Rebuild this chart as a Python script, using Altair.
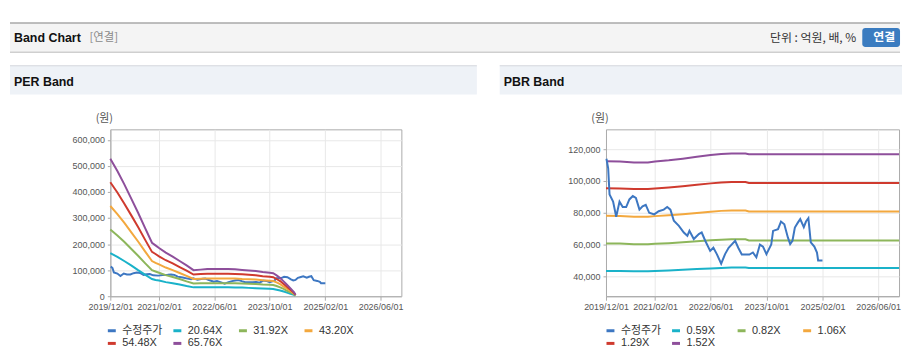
import altair as alt
import pandas as pd

# ---------------- data ----------------
x_tick_dates = [(2019, 12), (2021, 2), (2022, 6), (2023, 10), (2025, 2), (2026, 6)]

price_dates = ["2019-12-05", "2019-12-20", "2020-01-01", "2020-02-01", "2020-02-28", "2020-03-28",
               "2020-04-25", "2020-05-25", "2020-06-22", "2020-07-22", "2020-08-18", "2020-09-18",
               "2020-10-15", "2020-11-12", "2020-12-12", "2021-01-25", "2021-03-05", "2021-04-18",
               "2021-05-18", "2021-06-15", "2021-07-15", "2021-08-28", "2021-10-10", "2021-11-10",
               "2021-11-28", "2022-01-05", "2022-02-18", "2022-03-15", "2022-04-15", "2022-05-28",
               "2022-06-25", "2022-07-25", "2022-09-01", "2022-10-05", "2022-11-05", "2022-12-01",
               "2023-01-01", "2023-01-28", "2023-02-28", "2023-05-05", "2023-06-05", "2023-07-05",
               "2023-08-05", "2023-09-01", "2023-10-01", "2023-11-12", "2023-11-28", "2024-01-10",
               "2024-02-05", "2024-03-05", "2024-04-05", "2024-04-25", "2024-05-15", "2024-06-05",
               "2024-07-01", "2024-07-22", "2024-08-22", "2024-09-10", "2024-10-01", "2024-10-22",
               "2024-11-22", "2024-12-15", "2024-12-25", "2025-02-01"]
price_k = [114, 108, 91.5, 87, 77.5, 87, 83.6, 83.6, 88.4, 90.5, 89.4, 82,
           84, 85, 80, 79, 81, 82, 83.6, 82, 75, 71.8, 67.6, 65.5,
           68.6, 63.5, 66.6, 67.6, 62.4, 56, 58, 54, 48, 54, 58, 60,
           62.4, 58, 53.7, 53.7, 55, 52, 60, 58.7, 54, 60, 68.6, 69.7,
           74.5, 72.8, 64.5, 60.3, 62.4, 70.7, 73.8, 76, 71, 74.5, 76.6, 61.4,
           58.7, 55, 50, 50]

per_dates = ["2019-12-01", "2020-02-01", "2020-04-01", "2020-06-01", "2020-08-01", "2020-10-01",
             "2020-12-01", "2021-01-01", "2021-02-01", "2021-04-01", "2021-06-01", "2021-08-01",
             "2021-10-01", "2021-12-01", "2022-02-01", "2022-04-01", "2022-06-01", "2022-08-01",
             "2022-10-01", "2022-12-01", "2023-02-01", "2023-04-01", "2023-06-01", "2023-08-01",
             "2023-10-01", "2023-11-01", "2023-12-01", "2024-01-01", "2024-02-01", "2024-03-01",
             "2024-04-01", "2024-05-01", "2024-05-15"]
per_2064_k = [165, 151, 135, 118, 100, 83, 66, 62, 60, 54, 50, 45, 39, 34, 34, 34, 34, 34, 34, 33,
              33, 32, 31, 30, 29, 28, 25, 22, 18, 14, 9, 5, 2]
per_3192_k = [256, 233, 209, 182, 155, 127, 100, 95, 90, 81, 74, 66, 57, 49, 50, 50, 50, 50, 50, 50,
              49, 48, 47, 45, 44, 43, 39, 34, 28, 21, 15, 8, 3]
per_4320_k = [346, 315, 282, 246, 210, 172, 135, 128, 122, 110, 100, 89, 78, 66, 67, 68, 68, 68, 68, 68,
              66, 65, 64, 61, 59, 58, 53, 46, 37, 29, 20, 11, 4]
per_5448_k = [437, 398, 356, 311, 265, 217, 170, 162, 153, 138, 126, 112, 98, 83, 85, 86, 86, 86, 86, 85,
              84, 82, 80, 77, 75, 73, 66, 58, 47, 36, 25, 13, 5]
per_6576_k = [527, 480, 430, 375, 320, 262, 205, 195, 185, 167, 152, 135, 118, 100, 102, 104, 104, 104, 104, 103,
              101, 99, 97, 93, 90, 88, 80, 70, 57, 44, 30, 16, 6]

pbr_dates = ["2019-12-01", "2020-04-01", "2020-08-01", "2020-12-01", "2021-02-01", "2021-06-01",
             "2021-10-01", "2022-02-01", "2022-06-01", "2022-09-01", "2022-12-01", "2023-04-01",
             "2023-05-01", "2026-12-01"]
pbr_059_k = [43.4, 43.4, 43.2, 43.2, 43.4, 43.7, 44.1, 44.6, 45.0, 45.3, 45.5, 45.5, 45.2, 45.2]
pbr_082_k = [60.7, 60.6, 60.2, 60.2, 60.5, 60.9, 61.5, 62.1, 62.7, 63.1, 63.3, 63.3, 62.6, 62.6]
pbr_106_k = [78.1, 78.0, 77.5, 77.5, 77.9, 78.4, 79.1, 79.9, 80.7, 81.2, 81.4, 81.4, 80.8, 80.8]
pbr_129_k = [95.5, 95.3, 94.9, 94.9, 95.3, 95.9, 96.7, 97.6, 98.5, 99.1, 99.3, 99.3, 98.8, 98.8]
pbr_152_k = [112.4, 112.3, 111.7, 111.7, 112.3, 113.0, 114.0, 115.2, 116.3, 117.0, 117.3, 117.3, 116.8, 116.8]

per_labels = ["수정주가", "20.64X", "31.92X", "43.20X", "54.48X", "65.76X"]
pbr_labels = ["수정주가", "0.59X", "0.82X", "1.06X", "1.29X", "1.52X"]
series_colors = ["#3d77c2", "#1ab2c9", "#8db65b", "#f3a83e", "#cf3a2e", "#8e4f9b"]

per_y_ticks = [0, 100000, 200000, 300000, 400000, 500000, 600000]
pbr_y_ticks = [40000, 60000, 80000, 100000, 120000]

# ---------------- tables ----------------
def price_table(label):
    return pd.DataFrame({"date": pd.to_datetime(price_dates),
                         "value": [v * 1000 for v in price_k],
                         "series": label})


def band_table(dates, labels, arrays):
    frames = []
    for lab, arr in zip(labels, arrays):
        frames.append(pd.DataFrame({"date": pd.to_datetime(dates),
                                    "value": [v * 1000 for v in arr],
                                    "series": lab}))
    return pd.concat(frames, ignore_index=True)


per_band = band_table(per_dates, per_labels[1:], [per_2064_k, per_3192_k, per_4320_k, per_5448_k, per_6576_k])
pbr_band = band_table(pbr_dates, pbr_labels[1:], [pbr_059_k, pbr_082_k, pbr_106_k, pbr_129_k, pbr_152_k])

FONT = "Liberation Sans, Noto Sans CJK KR"
KFONT = "Noto Sans CJK KR"
one = pd.DataFrame({"k": [0]})


def dt(y, m):
    return alt.DateTime(year=y, month=m, date=1)


def panel(title, band_df, labels, y_domain, y_ticks, width, left, right, legend_x, price_first):
    x = alt.X("date:T",
              scale=alt.Scale(domain=[dt(2019, 12), dt(2026, 12)]),
              axis=alt.Axis(values=[dt(y, m) for y, m in x_tick_dates], format="%Y/%m/%d",
                            title=None, labelOverlap=False, labelFlush=False, grid=True))
    y = alt.Y("value:Q",
              scale=alt.Scale(domain=y_domain, nice=False, zero=False),
              axis=alt.Axis(values=y_ticks, format=",d", title=None, grid=True))
    color = alt.Color("series:N",
                      scale=alt.Scale(domain=labels, range=series_colors),
                      legend=alt.Legend(orient="none", legendX=legend_x, legendY=197,
                                        direction="horizontal", columns=4, title=None,
                                        symbolType="stroke", symbolStrokeWidth=3, symbolSize=64,
                                        labelFont=FONT, labelFontSize=11, labelColor="#333333",
                                        gridAlign="all", columnPadding=4, rowPadding=0,
                                        labelOffset=5, labelLimit=120, padding=0))
    band = alt.Chart(band_df).mark_line(strokeWidth=2).encode(x=x, y=y, color=color)
    price = alt.Chart(price_table(labels[0])).mark_line(strokeWidth=2).encode(x=x, y=y, color=color)

    strip = alt.Chart(one).mark_rect(color="#eef2f7").encode(
        x=alt.value(left), x2=alt.value(right), y=alt.value(-64), y2=alt.value(-35))
    strip_line = alt.Chart(one).mark_rule(color="#d4d7dc", strokeWidth=1).encode(
        x=alt.value(left), x2=alt.value(right), y=alt.value(-64))
    ttl = alt.Chart(one).mark_text(text=title, align="left", baseline="middle", font=FONT,
                                   fontWeight="bold", fontSize=12.5, color="#111111").encode(
        x=alt.value(left + 4), y=alt.value(-48))
    unit = alt.Chart(one).mark_text(text="(원)", align="center", baseline="middle", font=KFONT,
                                    fontSize=11, color="#555555").encode(
        x=alt.value(-6), y=alt.value(-10))
    lines = [price, band] if price_first else [band, price]
    return alt.layer(strip, strip_line, ttl, unit, *lines).properties(width=width, height=168)


left_panel = panel("PER Band", per_band, per_labels, [0, 640000], per_y_ticks,
                   293, -101, 369, -4, True)
right_panel = panel("PBR Band", pbr_band, pbr_labels, [27500, 132500], pbr_y_ticks,
                    295, -107, 298, -1, False)

# ---------------- header bar (origin aligned with the left plot origin) ----------------
H0 = -101
H1 = H0 + 896
hdr_bg = alt.Chart(one).mark_rect(color="#f4f4f4").encode(
    x=alt.value(H0), x2=alt.value(H1), y=alt.value(0), y2=alt.value(30))
hdr_top = alt.Chart(one).mark_rule(color="#a8a8a8", strokeWidth=1.5).encode(
    x=alt.value(H0), x2=alt.value(H1), y=alt.value(0))
hdr_bot = alt.Chart(one).mark_rule(color="#cfcfcf", strokeWidth=1.5).encode(
    x=alt.value(H0), x2=alt.value(H1), y=alt.value(29.5))
hdr_t1 = alt.Chart(one).mark_text(text="Band Chart", align="left", baseline="middle", font=FONT,
                                  fontWeight="bold", fontSize=12.5, color="#111111").encode(
    x=alt.value(H0 + 4), y=alt.value(15))
hdr_t2 = alt.Chart(one).mark_text(text="[연결]", align="left", baseline="middle", font=KFONT,
                                  fontSize=11.5, color="#8a8a8a").encode(
    x=alt.value(H0 + 80), y=alt.value(15))
hdr_t3 = alt.Chart(one).mark_text(text="단위 : 억원, 배, %", align="right", baseline="middle", font=KFONT,
                                  fontSize=12, color="#333333").encode(
    x=alt.value(H0 + 852), y=alt.value(15))
hdr_btn = alt.Chart(one).mark_rect(color="#3b7cc0", cornerRadius=3).encode(
    x=alt.value(H0 + 858), x2=alt.value(H1), y=alt.value(5), y2=alt.value(24))
hdr_btn_t = alt.Chart(one).mark_text(text="연결", align="center", baseline="middle", font=KFONT,
                                     fontWeight="bold", fontSize=12, color="#ffffff").encode(
    x=alt.value(H0 + 880), y=alt.value(14.5))
header = alt.layer(hdr_bg, hdr_top, hdr_bot, hdr_t1, hdr_t2, hdr_t3, hdr_btn, hdr_btn_t).properties(
    width=1, height=30, view=alt.ViewBackground(stroke="transparent"))

panels = alt.hconcat(left_panel, right_panel, spacing=21).resolve_scale(color="independent")

chart = alt.vconcat(
    header,
    panels,
    spacing=11,
).properties(
    padding={"top": 12, "left": 0, "right": 0, "bottom": 0}
).configure_view(
    stroke="#aaaaaa"
).configure_axis(
    labelFont="Liberation Sans", labelFontSize=9, labelColor="#555555",
    gridColor="#e8e8e8", domainColor="#aaaaaa", tickColor="#aaaaaa",
).configure_axisX(
    tickSize=4, labelPadding=2
).configure_axisY(
    tickSize=3, labelPadding=3
)

chart.save("out.html", embed_options={"renderer": "svg", "actions": False})
